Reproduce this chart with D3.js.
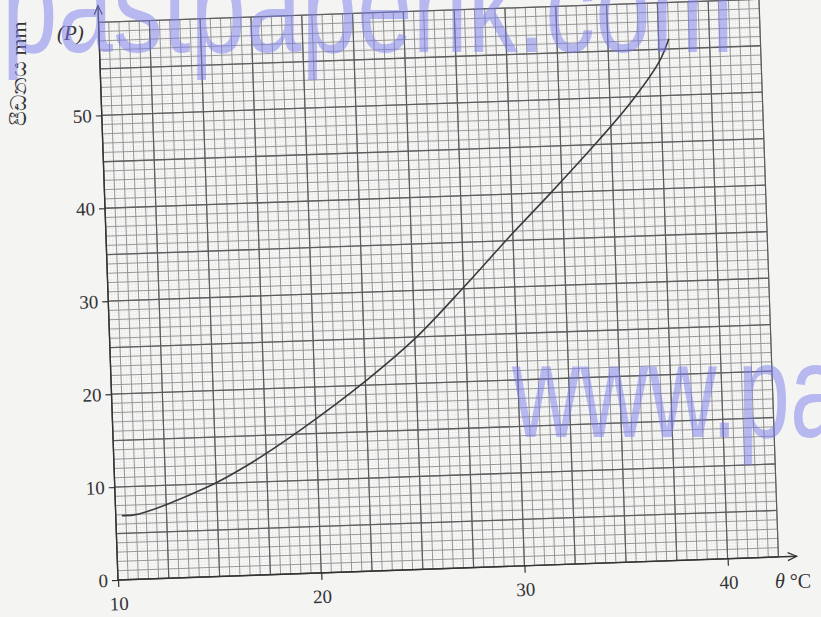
<!DOCTYPE html>
<html>
<head>
<meta charset="utf-8">
<script src="https://cdn.jsdelivr.net/npm/d3@7"></script>
<style>
  body { margin: 0; background: #f4f4f3; }
  svg { display: block; }
  text { font-family: "Liberation Serif", "DejaVu Serif", serif; fill: #333; }
  text.wm { font-family: "Liberation Sans", Arial, sans-serif; fill: rgb(125,125,238); }
</style>
</head>
<body>
<svg id="chart" width="821" height="617"></svg>
<script>
// readings: temperature (deg C) and pressure (mm)
const temps = [10.3, 11.1, 14.5, 16.6, 19.2, 22.6, 25.1, 27.6, 30.0, 31.9, 34.4, 36.1, 37.5, 38.0];
const pressures = [6.9, 7.0, 9.6, 11.9, 15.4, 20.6, 25.0, 30.4, 35.8, 39.9, 45.5, 49.6, 53.7, 56.1];

const xTicks = [10, 20, 30, 40];
const yTicks = [0, 10, 20, 30, 40, 50];

const xLabel = "θ";
const xUnit = " °C";
const yLabel = "පීඩනය mm";
const yName = "(P)";

const svg = d3.select("#chart");

// the scanned sheet sits a little tilted
const g = svg.append("g")
    .attr("transform", "translate(118,580) rotate(-2)");

const x = d3.scaleLinear().domain([10, 40]).range([0, 610]);
const y = d3.scaleLinear().domain([0, 60]).range([0, -558]);

const gx0 = 10, gx1 = 42.5, gy0 = 0, gy1 = 60;

// graph paper
g.append("rect")
    .attr("x", x(gx0)).attr("y", y(gy1))
    .attr("width", x(gx1) - x(gx0)).attr("height", y(gy0) - y(gy1))
    .attr("fill", "#f8f8f7");

function vlines(step, color, w, dash) {
    const vals = d3.range(gx0, gx1 + 1e-6, step);
    g.append("g").selectAll("line").data(vals).enter().append("line")
        .attr("x1", d => x(d)).attr("x2", d => x(d))
        .attr("y1", y(gy0)).attr("y2", y(gy1))
        .attr("stroke", color).attr("stroke-width", w)
        .attr("stroke-dasharray", dash || null);
}
function hlines(step, color, w, dash) {
    const vals = d3.range(gy0, gy1 + 1e-6, step);
    g.append("g").selectAll("line").data(vals).enter().append("line")
        .attr("y1", d => y(d)).attr("y2", d => y(d))
        .attr("x1", x(gx0)).attr("x2", x(gx1))
        .attr("stroke", color).attr("stroke-width", w)
        .attr("stroke-dasharray", dash || null);
}

vlines(0.1, "#dadada", 0.5, "1,2");
hlines(0.2, "#dadada", 0.5, "1,2");
vlines(0.5, "#8c8c8c", 0.9);
hlines(1, "#8f8f8f", 0.9);
vlines(2.5, "#5c5c5c", 1.2);
hlines(5, "#5c5c5c", 1.3);

// the curve
const pts = temps.map((t, i) => [t, pressures[i]]);
g.append("path")
    .datum(pts)
    .attr("fill", "none")
    .attr("stroke", "#3a3a3a")
    .attr("stroke-width", 1.6)
    .attr("d", d3.line().x(d => x(d[0])).y(d => y(d[1])).curve(d3.curveCatmullRom.alpha(0.5)));

// axes
const xAxis = g.append("g")
    .call(d3.axisBottom(x).tickValues(xTicks).tickSize(7).tickPadding(6).tickFormat(d3.format("d")));
const yAxis = g.append("g")
    .call(d3.axisLeft(y).tickValues(yTicks).tickSize(6).tickPadding(4).tickFormat(d3.format("d")));

[xAxis, yAxis].forEach(a => {
    a.select(".domain").remove();
    a.selectAll(".tick line").attr("stroke", "#333").attr("stroke-width", 1.2);
    a.selectAll(".tick text").attr("fill", "#333").style("font-size", "19px")
        .style("font-family", "'Liberation Serif', serif");
});
xAxis.selectAll(".tick text").attr("dy", "0.9em");

const xEnd = x(43.4), yEnd = y(61.8);
g.append("line").attr("x1", 0).attr("x2", xEnd).attr("y1", 0).attr("y2", 0)
    .attr("stroke", "#333").attr("stroke-width", 1.4);
g.append("path").attr("d", `M${xEnd - 9},-4L${xEnd},0L${xEnd - 9},4`)
    .attr("fill", "none").attr("stroke", "#333").attr("stroke-width", 1.2);
g.append("line").attr("x1", 0).attr("x2", 0).attr("y1", 0).attr("y2", yEnd)
    .attr("stroke", "#333").attr("stroke-width", 1.4);
g.append("path").attr("d", `M-4,${yEnd + 9}L0,${yEnd}L4,${yEnd + 9}`)
    .attr("fill", "none").attr("stroke", "#333").attr("stroke-width", 1.2);

// labels
const xl = svg.append("text").attr("x", 775).attr("y", 588).style("font-size", "20px");
xl.append("tspan").style("font-style", "italic").text(xLabel);
xl.append("tspan").text(xUnit);
svg.append("text").attr("x", 57).attr("y", 40)
    .style("font-size", "21px").style("font-style", "italic").text(yName);
svg.append("text")
    .attr("transform", "translate(26,126) rotate(-90)")
    .style("font-size", "22px").text(yLabel);

// site watermark over the scan
const wm = svg.append("g").attr("opacity", 0.5);
wm.append("text").attr("class", "wm").attr("transform", "translate(2,52) scale(0.75,1)")
    .style("font-size", "133px").text("pastpaperlk.com");
wm.append("text").attr("class", "wm").attr("transform", "translate(512,437) scale(0.71,1)")
    .style("font-size", "133px").text("www.pa");
</script>
</body>
</html>
